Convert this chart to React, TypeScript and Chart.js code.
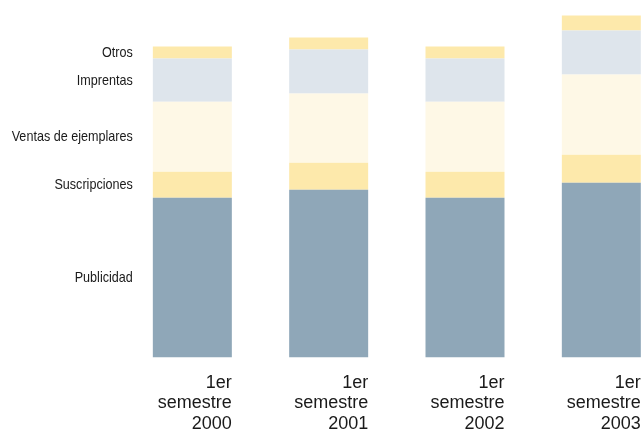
import React, { useEffect, useRef } from "react";
import { Chart, registerables } from "chart.js";

Chart.register(...registerables);

const categories: string[][] = [
  ["1er", "semestre", "2000"],
  ["1er", "semestre", "2001"],
  ["1er", "semestre", "2002"],
  ["1er", "semestre", "2003"],
];
const seriesNames = ["Publicidad", "Suscripciones", "Ventas de ejemplares", "Imprentas", "Otros"];
const publicidad = [159.5, 167.5, 159.5, 174.5];
const suscripciones = [26, 27, 26, 28];
const ventas = [70, 69, 70, 80];
const imprentas = [43, 44, 43, 44];
const otros = [12, 12, 12, 15];
const seriesColors = ["#8FA7B8", "#FDE9AB", "#FEF8E6", "#DEE5EC", "#FDE9AB"];

const labelsPlugin = {
  id: "customLabels",
  afterDatasetsDraw(chart: any) {
    const ctx = chart.ctx;
    const area = chart.chartArea;
    ctx.save();
    ctx.fillStyle = "#1a1a1a";
    // series labels next to first bar (condensed look via horizontal scaling)
    const squeeze = 0.84;
    ctx.font = '15px "Liberation Sans", Arial, sans-serif';
    ctx.textAlign = "right";
    ctx.textBaseline = "middle";
    chart.data.datasets.forEach((ds: any, di: number) => {
      const meta = chart.getDatasetMeta(di);
      const el: any = meta.data[0];
      if (!el) return;
      const props = el.getProps(["x", "y", "base", "width"], true);
      const yMid = (props.y + props.base) / 2 + 0.5;
      const xRight = props.x - props.width / 2 - 20;
      ctx.save();
      ctx.translate(xRight, yMid);
      ctx.scale(squeeze, 1);
      ctx.fillText(ds.label, 0, 0);
      ctx.restore();
    });
    // category labels under bars, right-aligned to bar's right edge
    ctx.font = '18px "Liberation Sans", Arial, sans-serif';
    const meta0 = chart.getDatasetMeta(0);
    chart.data.labels.forEach((lab: string[], i: number) => {
      const el: any = meta0.data[i];
      const props = el.getProps(["x", "width"], true);
      const xr = props.x + props.width / 2;
      lab.forEach((line, li) => {
        ctx.fillText(line, xr, area.bottom + 25.5 + li * 20.5);
      });
    });
    ctx.restore();
  },
};

export default function App() {
  const ref = useRef<HTMLCanvasElement | null>(null);
  useEffect(() => {
    if (!ref.current) return;
    const values = [publicidad, suscripciones, ventas, imprentas, otros];
    const chart = new Chart(ref.current, {
      type: "bar",
      data: {
        labels: categories as any,
        datasets: seriesNames.map((name, i) => ({
          label: name,
          data: values[i],
          backgroundColor: seriesColors[i],
          borderWidth: 0,
          barPercentage: 79 / 136.33,
          categoryPercentage: 1,
        })),
      },
      options: {
        responsive: false,
        animation: false,
        devicePixelRatio: 1,
        layout: { padding: { left: 124.17, right: 10.5, top: 7, bottom: 76.5 } },
        plugins: { legend: { display: false }, tooltip: { enabled: false } },
        scales: {
          x: { stacked: true, display: false, offset: true },
          y: { stacked: true, display: false, min: 0, max: 350 },
        },
      },
      plugins: [labelsPlugin],
    });
    return () => chart.destroy();
  }, []);
  return (
    <div style={{ position: "absolute", left: 0, top: 0, width: 644, height: 434, overflow: "hidden", background: "#fff" }}>
      <canvas ref={ref} width={680} height={434} style={{ width: 680, height: 434, display: "block" }} />
    </div>
  );
}
